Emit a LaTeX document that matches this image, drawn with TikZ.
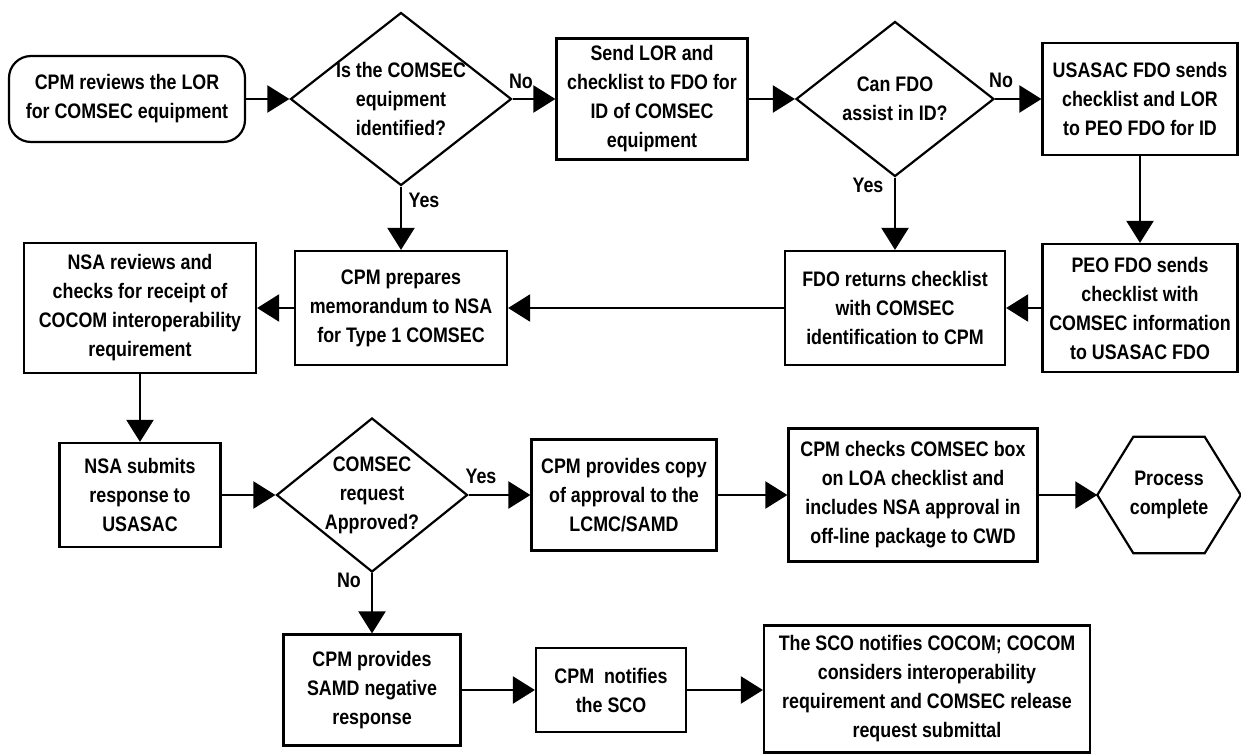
\documentclass[tikz,border=0pt]{standalone}
\usepackage{fontspec}
\setmainfont{Liberation Sans}[FakeStretch=0.85]
\usetikzlibrary{shapes.geometric}
\usetikzlibrary{arrows.meta}

\begin{document}
\begin{tikzpicture}[x=1pt,y=-1pt,
  txt/.style={align=center, font=\fontsize{21}{29}\selectfont\bfseries},
  box/.style={txt, draw, line width=2.2pt, inner sep=2pt},
  rbox/.style={box, rounded corners=22pt},
  dec/.style={txt, diamond, draw, line width=2.2pt, inner sep=-30pt},
  lbl/.style={txt, inner sep=0pt},
  arr/.style={-{Triangle[length=22pt,width=27pt]}, line width=2.2pt}]

\useasboundingbox (0,0) rectangle (1241,753);

% top row
\node[rbox, minimum width=236pt, minimum height=86pt] (lor) at (127,99) {CPM reviews the LOR\\for COMSEC equipment};
\node[dec, minimum width=221pt, minimum height=173pt] (ident) at (401,99) {Is the COMSEC\\equipment\\identified?};
\node[box, minimum width=191pt, minimum height=121pt] (send) at (652,99) {Send LOR and\\checklist to FDO for\\ID of COMSEC\\equipment};
\node[dec, minimum width=198pt, minimum height=155pt] (assist) at (895,99) {Can FDO\\assist in ID?};
\node[box, minimum width=195pt, minimum height=112pt] (usasac) at (1140,99) {USASAC FDO sends\\checklist and LOR\\to PEO FDO for ID};

% second row
\node[box, minimum width=232pt, minimum height=130pt] (review) at (140,308) {NSA reviews and\\checks for receipt of\\COCOM interoperability\\requirement};
\node[box, minimum width=212pt, minimum height=114pt] (memo) at (401,308) {CPM prepares\\memorandum to NSA\\for Type 1 COMSEC};
\node[box, minimum width=220pt, minimum height=114pt] (fdoret) at (895,308) {FDO returns checklist\\with COMSEC\\identification to CPM};
\node[box, minimum width=195pt, minimum height=128pt] (peo) at (1140,308) {PEO FDO sends\\checklist with\\COMSEC information\\to USASAC FDO};

% third row
\node[box, minimum width=161pt, minimum height=104pt] (submit) at (140,495) {NSA submits\\response to\\USASAC};
\node[dec, minimum width=191pt, minimum height=154pt] (approved) at (372,495) {COMSEC\\request\\Approved?};
\node[box, minimum width=185pt, minimum height=111pt] (copy) at (624,495) {CPM provides copy\\of approval to the\\LCMC/SAMD};
\node[box, minimum width=249pt, minimum height=133pt] (checks) at (913,495) {CPM checks COMSEC box\\on LOA checklist and\\includes NSA approval in\\off-line package to CWD};
\node[txt, minimum width=143pt, minimum height=116pt] (done) at (1169,495) {Process\\complete};
\draw[line width=2.2pt] (done.west) -- ([xshift=36pt]done.north west) -- ([xshift=-36pt]done.north east) -- (done.east) -- ([xshift=-36pt]done.south east) -- ([xshift=36pt]done.south west) -- cycle;

% bottom row
\node[box, minimum width=177pt, minimum height=111pt] (negative) at (372,690) {CPM provides\\SAMD negative\\response};
\node[box, minimum width=150pt, minimum height=84pt] (notify) at (611,690) {CPM\ \ notifies\\the SCO};
\node[box, minimum width=326pt, minimum height=127pt] (sco) at (927,689) {The SCO notifies COCOM; COCOM\\considers interoperability\\requirement and COMSEC release\\request submittal};

% labels
\node[lbl] (no1) at (521,81) {No};
\node[lbl] (yes1) at (424,200) {Yes};
\node[lbl] (no2) at (1001,80) {No};
\node[lbl] (yes2) at (868,185) {Yes};
\node[lbl] (yes3) at (481,476) {Yes};
\node[lbl] (no3) at (349,580) {No};

% arrows
\draw[arr] (lor) -- (ident);
\draw[arr] (ident) -- (send);
\draw[arr] (send) -- (assist);
\draw[arr] (assist) -- (usasac);
\draw[arr] (ident) -- (memo);
\draw[arr] (assist) -- (fdoret);
\draw[arr] (usasac) -- (peo);
\draw[arr] (peo) -- (fdoret);
\draw[arr] (fdoret) -- (memo);
\draw[arr] (memo) -- (review);
\draw[arr] (review) -- (submit);
\draw[arr] (submit) -- (approved);
\draw[arr] (approved) -- (copy);
\draw[arr] (copy) -- (checks);
\draw[arr] (checks) -- (done.west);
\draw[arr] (approved) -- (negative);
\draw[arr] (negative) -- (notify);
\draw[arr] (notify.east) -- (notify.east -| sco.west);

\end{tikzpicture}
\end{document}
